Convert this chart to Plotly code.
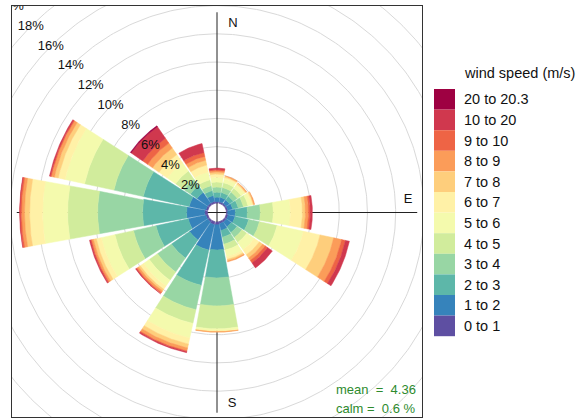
import numpy as np
import plotly.graph_objects as go

# ---------------- data (percent of time) ----------------
directions = [0, 22.5, 45, 67.5, 90, 112.5, 135, 157.5,
              180, 202.5, 225, 247.5, 270, 292.5, 315, 337.5]
speed_bins = ["0 to 1", "1 to 2", "2 to 3", "3 to 4", "4 to 5", "5 to 6",
              "6 to 7", "7 to 8", "8 to 9", "9 to 10", "10 to 20", "20 to 20.3"]

ws_0_1   = [0.11, 0.11, 0.11, 0.12, 0.10, 0.14, 0.14, 0.14, 0.21, 0.21, 0.14, 0.14, 0.21, 0.14, 0.14, 0.14]
ws_1_2   = [0.32, 0.32, 0.30, 0.35, 0.54, 0.50, 0.43, 0.50, 1.78, 1.85, 1.56, 1.28, 1.28, 1.21, 0.92, 0.43]
ws_2_3   = [0.35, 0.35, 0.33, 0.40, 0.85, 0.99, 0.49, 0.49, 1.98, 2.55, 1.56, 2.34, 3.12, 3.33, 0.57, 0.35]
ws_3_4   = [0.36, 0.36, 0.35, 0.38, 0.92, 0.78, 0.43, 0.50, 1.99, 1.77, 1.21, 1.63, 3.19, 2.13, 0.57, 0.36]
ws_4_5   = [0.35, 0.35, 0.33, 0.33, 0.92, 1.28, 0.42, 0.43, 1.63, 1.00, 0.71, 1.35, 2.13, 2.13, 0.71, 0.42]
ws_5_6   = [0.35, 0.28, 0.27, 0.25, 1.21, 1.91, 0.64, 0.49, 0.14, 1.06, 0.49, 0.99, 1.77, 1.41, 0.71, 0.57]
ws_6_7   = [0.22, 0.11, 0.10, 0.12, 0.85, 1.21, 0.43, 0.18, 0.04, 0.43, 0.29, 0.36, 0.92, 0.50, 0.71, 0.50]
ws_7_8   = [0.14, 0.06, 0.06, 0.06, 0.21, 0.99, 0.28, 0.11, 0.03, 0.28, 0.14, 0.21, 0.36, 0.28, 0.56, 0.35]
ws_8_9   = [0.11, 0.05, 0.05, 0.05, 0.22, 0.57, 0.22, 0.07, 0.02, 0.21, 0.14, 0.14, 0.21, 0.22, 0.43, 0.28]
ws_9_10  = [0.07, 0.00, 0.00, 0.00, 0.13, 0.28, 0.21, 0.00, 0.00, 0.07, 0.07, 0.07, 0.11, 0.07, 0.42, 0.29]
ws_10_20 = [0.10, 0.00, 0.00, 0.00, 0.15, 0.29, 0.42, 0.00, 0.00, 0.07, 0.04, 0.07, 0.03, 0.07, 1.00, 0.64]
ws_20_x  = [0.00, 0.00, 0.00, 0.00, 0.00, 0.00, 0.00, 0.00, 0.00, 0.00, 0.00, 0.00, 0.00, 0.00, 0.07, 0.00]

ring_values = [2, 4, 6, 8, 10, 12, 14, 16, 18, 20]
mean_speed = 4.36
calm_pct = 0.6

bins = [ws_0_1, ws_1_2, ws_2_3, ws_3_4, ws_4_5, ws_5_6, ws_6_7, ws_7_8,
        ws_8_9, ws_9_10, ws_10_20, ws_20_x]

# ---------------- style ----------------
FONT = "Liberation Sans, Arial, sans-serif"
W, H = 585, 419
CX, CY, K = 217.0, 212.5, 14.1        # centre pixel, px per percent
OFFSET = 0.67                          # calm-circle offset (percent units)
SECTOR = 22.5
GAP = 1.0

spectral = ["#5E4FA2", "#3288BD", "#66C2A5", "#ABDDA4", "#E6F598", "#FFFFBF",
            "#FEE08B", "#FDAE61", "#F46D43", "#D53E4F", "#9E0142"]


def ramp(cols, n):
    rgb = np.array([[int(c[i:i + 2], 16) for i in (1, 3, 5)] for c in cols], float)
    pos = np.linspace(0, len(cols) - 1, n)
    out = []
    for p in pos:
        i = min(int(np.floor(p)), len(cols) - 2)
        t = p - i
        c = rgb[i] * (1 - t) + rgb[i + 1] * t
        out.append("#%02X%02X%02X" % tuple(int(round(v)) for v in c))
    return out


colors = ramp(spectral, len(speed_bins))

fig = go.Figure()

# grid circles
th = np.linspace(0, 2 * np.pi, 361)
for v in [0] + ring_values + [22, 24, 26]:
    r = v + OFFSET
    fig.add_trace(go.Scatter(x=r * np.sin(th), y=r * np.cos(th), mode="lines",
                             line=dict(color="#D9D9D9", width=1),
                             hoverinfo="skip", showlegend=False))

# axis cross
L = 14.2
fig.add_trace(go.Scatter(x=[0, 0, None, -L, L], y=[-L, L, None, 0, 0], mode="lines",
                         line=dict(color="#222222", width=1),
                         hoverinfo="skip", showlegend=False))

# wedges
cum = np.zeros(len(directions))
for b, vals in enumerate(bins):
    xs, ys = [], []
    for d, wd in enumerate(directions):
        v = vals[d]
        r1 = OFFSET + cum[d]
        r2 = r1 + v
        cum[d] += v
        if v <= 0:
            continue
        a = np.radians(np.linspace(wd - SECTOR / 2 + GAP, wd + SECTOR / 2 - GAP, 40))
        px = np.concatenate([r2 * np.sin(a), r1 * np.sin(a[::-1]), [r2 * np.sin(a[0])]])
        py = np.concatenate([r2 * np.cos(a), r1 * np.cos(a[::-1]), [r2 * np.cos(a[0])]])
        xs += list(px) + [None]
        ys += list(py) + [None]
    if xs:
        fig.add_trace(go.Scatter(x=xs, y=ys, mode="lines", fill="toself",
                                 fillcolor=colors[b],
                                 line=dict(color=colors[b], width=0.5),
                                 hoverinfo="skip", showlegend=False))

# ring labels along 315 degrees
ang = np.radians(315)
rl = np.array(ring_values) + OFFSET
fig.add_trace(go.Scatter(x=rl * np.sin(ang), y=rl * np.cos(ang), mode="text",
                         text=[f"{v}%" for v in ring_values],
                         textfont=dict(family=FONT, size=13, color="#111111"),
                         cliponaxis=True, hoverinfo="skip", showlegend=False))


def px2x(px):
    return (px - CX) / K


def py2y(py):
    return (CY - py) / K


# compass letters
fig.add_trace(go.Scatter(x=[px2x(233), px2x(408), px2x(232)],
                         y=[py2y(24), py2y(200), py2y(404)],
                         mode="text", text=["N", "E", "S"],
                         textfont=dict(family=FONT, size=13, color="#111111"),
                         hoverinfo="skip", showlegend=False))

annotations = [
    dict(x=px2x(418), y=py2y(389), xref="x", yref="y", text=f"mean  =  {mean_speed}",
         showarrow=False, xanchor="right", yanchor="middle",
         font=dict(family=FONT, size=13, color="#2E8B2E")),
    dict(x=px2x(418), y=py2y(408), xref="x", yref="y", text=f"calm =  {calm_pct} %",
         showarrow=False, xanchor="right", yanchor="middle",
         font=dict(family=FONT, size=13, color="#2E8B2E")),
    dict(x=462 / W, y=1 - 73 / H, xref="paper", yref="paper", text="wind speed (m/s)",
         showarrow=False, xanchor="left", yanchor="middle",
         font=dict(family=FONT, size=14.5, color="#111111")),
]

# colour key
shapes = []
top, step = 89.0, 20.6
for i, (lab, col) in enumerate(zip(speed_bins[::-1], colors[::-1])):
    y0 = top + i * step
    shapes.append(dict(type="rect", xref="paper", yref="paper",
                       x0=434 / W, x1=455 / W, y0=1 - (y0 + step) / H, y1=1 - y0 / H,
                       fillcolor=col, line=dict(width=0)))
    annotations.append(dict(x=462 / W, y=1 - (y0 + step / 2) / H, xref="paper", yref="paper",
                            text=lab, showarrow=False, xanchor="left", yanchor="middle",
                            font=dict(family=FONT, size=14.5, color="#111111")))

axis_common = dict(showgrid=False, zeroline=False, showticklabels=False, ticks="",
                   showline=True, mirror=True, linecolor="#333333", linewidth=1,
                   fixedrange=True)
fig.update_layout(
    width=W, height=H, margin=dict(l=0, r=0, t=0, b=0),
    paper_bgcolor="white", plot_bgcolor="white",
    xaxis=dict(range=[px2x(12), px2x(422)], domain=[12 / W, 422 / W], **axis_common),
    yaxis=dict(range=[py2y(417), py2y(6)], domain=[2 / H, 413 / H], **axis_common),
    shapes=shapes, annotations=annotations, showlegend=False,
)

fig.write_html("out.html", config={"displayModeBar": False},
               post_script="document.body.style.margin='0';document.body.style.overflow='hidden';")
